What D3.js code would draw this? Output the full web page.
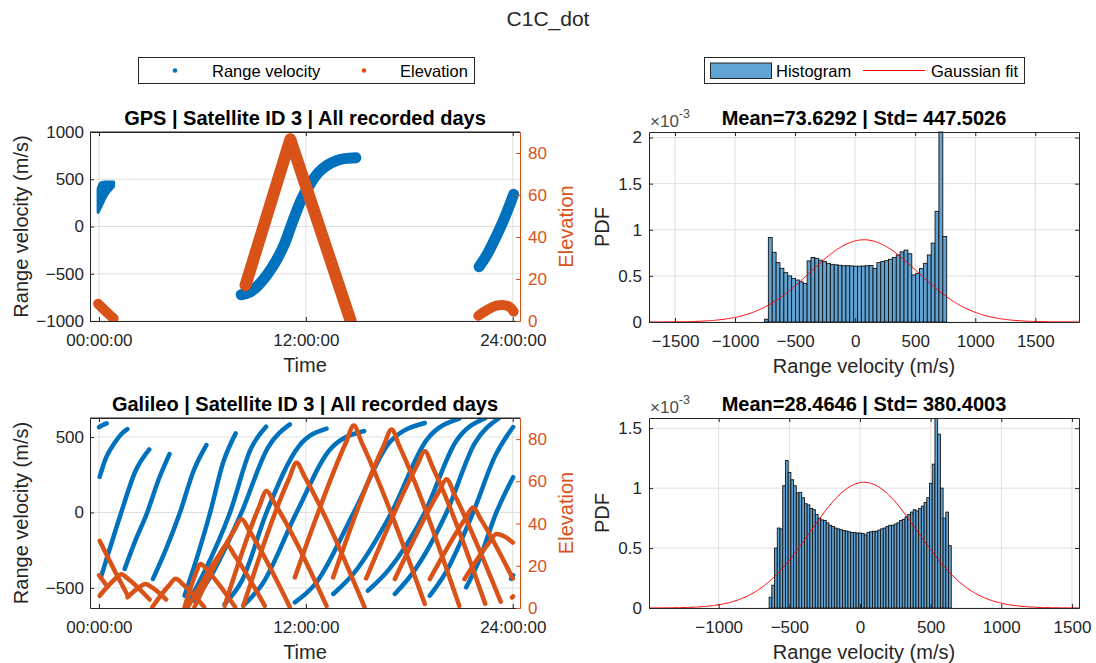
<!DOCTYPE html>
<html>
<head>
<meta charset="utf-8">
<script src="https://cdn.jsdelivr.net/npm/d3@7"></script>
<style>
  body { margin: 0; background: #ffffff; }
  svg text { font-family: "Liberation Sans", Arial, Helvetica, sans-serif; }
</style>
</head>
<body>
<svg id="chart" width="1096" height="663"></svg>
<script>
// ---- values ----
var timeTicks = [0, 12, 24];
var timeTickLabels = ["00:00:00", "12:00:00", "24:00:00"];
var gpsVelTicks = [-1000, -500, 0, 500, 1000];
var galVelTicks = [-500, 0, 500];
var elevTicks = [0, 20, 40, 60, 80];

// GPS sat 3 : time in hours, velocity m/s, elevation deg
var gpsVelStart = [[-0.05, 150, 400], [0.1, 205, 462], [0.4, 320, 472], [0.85, 425, 472]]; // t, low, high
var gpsVelMain = [[8.25, -722], [8.75, -695], [9.25, -620], [9.75, -510], [10.25, -370], [10.75, -190],
                  [11.25, 60], [11.75, 290], [12.25, 450], [12.75, 575], [13.25, 650], [13.75, 695],
                  [14.25, 718], [14.9, 728]];
var gpsVelEnd = [[22.05, -425], [22.5, -300], [23.0, -120], [23.5, 80], [24.05, 340]];
var gpsElevStart = [[-0.05, 8.2], [0.4, 4.6], [0.85, 1.2]];
var gpsElevMain = [[8.5, 17], [11.1, 86.5], [14.6, 0]];
var gpsElevEnd = [[22.0, 2.5], [22.5, 5.2], [23.0, 7.2], [23.4, 7.6], [23.8, 6.8], [24.05, 4.5]];

// Galileo sat 3 : one array per pass
var galVelArcs = [
  [[0.0, 565], [0.2, 578], [0.45, 590]],
  [[0.04, 236], [0.4, 360], [0.9, 460], [1.3, 520], [1.65, 552]],
  [[0.12, -427], [0.6, -250], [1.29, 0], [2.1, 270], [2.92, 418]],
  [[1.49, -374], [2.1, -190], [2.8, 0], [3.5, 230], [4.09, 387]],
  [[3.13, -441], [3.9, -240], [4.7, 0], [5.5, 280], [6.23, 447]],
  [[4.97, -551], [5.6, -330], [6.45, 0], [7.2, 330], [7.93, 524]],
  [[5.16, -600], [6.0, -420], [7.6, 0], [8.8, 420], [9.69, 568]],
  [[5.54, -585], [6.6, -400], [8.27, 0], [9.8, 430], [11.07, 584]],
  [[7.29, -606], [8.3, -450], [9.72, 0], [11.6, 440], [13.2, 556]],
  [[8.37, -617], [9.5, -470], [11.46, 0], [13.5, 430], [15.38, 540]],
  [[11.36, -596], [12.5, -480], [14.78, 0], [16.9, 470], [18.9, 593]],
  [[13.59, -540], [14.8, -400], [16.97, 0], [19.0, 480], [20.9, 622]],
  [[15.6, -518], [16.8, -380], [18.9, 0], [20.7, 470], [22.4, 625]],
  [[17.16, -540], [18.2, -400], [20.16, 0], [21.8, 460], [23.2, 625]],
  [[19.19, -551], [20.1, -400], [21.7, 0], [23.0, 380], [24.02, 566]],
  [[21.3, -496], [22.0, -330], [23.05, 0], [24.02, 234]],
  [[23.9, -440], [24.02, -416]]
];
var galElevArcs = [
  [[0.0, 15.5], [0.5, 10]],
  [[0.04, 31.8], [0.9, 17.8], [1.7, 5.5]],
  [[0.04, 5.8], [0.9, 13.5], [1.3, 16], [1.7, 13.7], [2.94, 4]],
  [[1.65, 5], [2.3, 9.6], [2.7, 11.4], [3.1, 9.6], [3.9, 4]],
  [[3.1, 0.5], [4.05, 10.6], [4.45, 13.8], [4.9, 11.0], [6.1, 0.5]],
  [[4.97, 0.5], [5.55, 15], [5.9, 20.8], [6.35, 17.2], [7.9, 0.5]],
  [[5.16, 0.5], [6.96, 25], [7.41, 30], [7.86, 25], [9.62, 1]],
  [[5.54, 0.5], [7.82, 36.5], [8.27, 42], [8.72, 36.6], [11.07, 0.5]],
  [[7.29, 1], [9.27, 47.5], [9.72, 55.4], [10.17, 49.8], [13.2, 1]],
  [[8.37, 1], [11.01, 61], [11.46, 68.8], [11.91, 62.5], [15.4, 0.5]],
  [[11.36, 14.5], [14.33, 78.5], [14.78, 86.4], [15.23, 78.6], [18.9, 1.9]],
  [[13.58, 14.5], [16.52, 77], [16.97, 84.5], [17.42, 76.8], [20.9, 1]],
  [[15.5, 14], [18.45, 67.6], [18.9, 74.3], [19.35, 66.8], [22.4, 2]],
  [[17.16, 13.7], [19.71, 55], [20.16, 61], [20.61, 53.9], [23.3, 3]],
  [[19.19, 13.7], [21.25, 42.4], [21.7, 47.6], [22.15, 42], [24.0, 14]],
  [[21.2, 13.7], [22.6, 30.6], [23.05, 35], [23.5, 34], [24.0, 31]],
  [[23.95, 5], [24.02, 5.5]]
];

// histograms, pdf in units of 1e-3
var gpsHistMin = -755, gpsHistMax = 762;
var gpsHistPdf = [0.03, 0.916, 0.756, 0.644, 0.582, 0.535, 0.50, 0.473, 0.455, 0.436, 0.418,
  0.662, 0.70, 0.69, 0.67, 0.655, 0.636, 0.625, 0.62, 0.615, 0.61, 0.61, 0.608, 0.605, 0.605, 0.607, 0.61, 0.612,
  0.58, 0.644, 0.655, 0.665, 0.68, 0.70, 0.727, 0.76, 0.78, 0.74,
  0.51, 0.527, 0.58, 0.636, 0.727, 0.855, 1.2, 2.07, 0.927];
var gpsMean = 73.6292, gpsStd = 447.5026;
var galHistMin = -643, galHistMax = 646;
var galHistPdf = [0.09, 0.19, 0.5, 0.667, 0.66, 1.02, 1.23, 1.13, 1.07, 1.02, 0.96, 0.965, 0.92, 0.87, 0.86,
  0.83, 0.82, 0.78, 0.75, 0.735, 0.73, 0.71, 0.69, 0.68, 0.667, 0.66, 0.653, 0.647, 0.642, 0.636, 0.63, 0.63,
  0.625, 0.625, 0.622, 0.61, 0.63, 0.636, 0.64, 0.64, 0.65, 0.66, 0.667, 0.68, 0.69, 0.69, 0.70, 0.71, 0.73,
  0.74, 0.76, 0.78, 0.80, 0.82, 0.81, 0.83, 0.85, 0.88, 0.92, 1.04, 1.2, 1.58, 1.45, 1.0, 0.75, 0.80, 0.52];
var galMean = 28.4646, galStd = 380.4003;
var gpsHistTicks = [-1500, -1000, -500, 0, 500, 1000, 1500];
var galHistTicks = [-1000, -500, 0, 500, 1000, 1500];
var gpsPdfTicks = [0, 0.5, 1, 1.5, 2];
var galPdfTicks = [0, 0.5, 1, 1.5];

// ---- drawing ----
var svg = d3.select("#chart");
var ink = "#262626", gridCol = "#dfdfdf";
var blue = "#0072bd", orange = "#d95319", histFill = "#5fa4d4";
var timeDomain = [-0.52, 24.42];
var elevDomain = [0, 90];
var defs = svg.append("defs");

function styleAxis(sel, color) {
  sel.attr("font-family", null).attr("font-size", 17).attr("color", color);
  sel.select(".domain").attr("stroke-width", 1);
}

function addGrid(g, xs, ys, x, y, p) {
  g.append("g").selectAll("line").data(xs).enter().append("line")
    .attr("x1", x).attr("x2", x).attr("y1", p.top).attr("y2", p.bottom)
    .attr("stroke", gridCol);
  g.append("g").selectAll("line").data(ys).enter().append("line")
    .attr("x1", p.left).attr("x2", p.right).attr("y1", y).attr("y2", y)
    .attr("stroke", gridCol);
}

function ylabel(text, xBase, yMid, color) {
  svg.append("text").attr("transform", "translate(" + xBase + "," + yMid + ") rotate(-90)")
    .attr("text-anchor", "middle").attr("font-size", 20).attr("fill", color).text(text);
}

function drawTimePanel(p) {
  var x = d3.scaleLinear().domain(timeDomain).range([p.left, p.right]);
  var y = d3.scaleLinear().domain(p.velDomain).range([p.bottom, p.top]);
  var y2 = d3.scaleLinear().domain(elevDomain).range([p.bottom, p.top]);
  var g = svg.append("g");

  addGrid(g, timeTicks, p.velTicks, x, y, p);

  defs.append("clipPath").attr("id", p.id).append("rect")
    .attr("x", p.left).attr("y", p.top)
    .attr("width", p.right - p.left).attr("height", p.bottom - p.top);
  var plot = g.append("g").attr("clip-path", "url(#" + p.id + ")");
  p.draw(plot, x, y, y2);

  g.append("line").attr("x1", p.left).attr("x2", p.right).attr("y1", p.top).attr("y2", p.top)
    .attr("stroke", ink);
  g.append("g").attr("transform", "translate(0," + p.top + ")")
    .call(d3.axisTop(x).tickValues(timeTicks).tickFormat("").tickSizeInner(-4).tickSizeOuter(0))
    .call(styleAxis, ink);
  g.append("g").attr("transform", "translate(0," + p.bottom + ")")
    .call(d3.axisBottom(x).tickValues(timeTicks)
      .tickFormat(function(d, i) { return timeTickLabels[i]; })
      .tickSizeInner(-4).tickSizeOuter(0).tickPadding(13))
    .call(styleAxis, ink);
  g.append("g").attr("transform", "translate(" + p.left + ",0)")
    .call(d3.axisLeft(y).tickValues(p.velTicks).tickFormat(d3.format("d"))
      .tickSizeInner(-4).tickSizeOuter(0).tickPadding(6))
    .call(styleAxis, ink);
  g.append("g").attr("transform", "translate(" + p.right + ",0)")
    .call(d3.axisRight(y2).tickValues(elevTicks)
      .tickSizeInner(-4).tickSizeOuter(0).tickPadding(8))
    .call(styleAxis, orange);

  svg.append("text").attr("x", (p.left + p.right) / 2).attr("y", p.top - 7)
    .attr("text-anchor", "middle").attr("font-size", 20).attr("font-weight", "bold")
    .attr("fill", "#000").text(p.title);
  svg.append("text").attr("x", (p.left + p.right) / 2).attr("y", p.bottom + 51)
    .attr("text-anchor", "middle").attr("font-size", 20).attr("fill", ink).text("Time");
  ylabel("Range velocity (m/s)", 28, (p.top + p.bottom) / 2, ink);
  ylabel("Elevation", 573, (p.top + p.bottom) / 2, orange);
}

function drawHistPanel(p) {
  var x = d3.scaleLinear().domain([p.mean - 4 * p.std, p.mean + 4 * p.std]).range([p.left, p.right]);
  var y = d3.scaleLinear().domain([0, p.yMax]).range([p.bottom, p.top]);
  var g = svg.append("g");
  var bw = (p.binMax - p.binMin) / p.pdf.length;

  addGrid(g, p.xTicks, p.yTicks, x, y, p);

  g.append("g").selectAll("rect").data(p.pdf).enter().append("rect")
    .attr("x", function(d, i) { return x(p.binMin + i * bw); })
    .attr("width", function(d, i) { return x(p.binMin + (i + 1) * bw) - x(p.binMin + i * bw); })
    .attr("y", function(d) { return y(Math.min(d, p.yMax)); })
    .attr("height", function(d) { return p.bottom - y(Math.min(d, p.yMax)); })
    .attr("fill", histFill).attr("stroke", "#141414").attr("stroke-width", 0.9);

  var dom = x.domain();
  var vs = d3.range(dom[0], dom[1], 8).concat([dom[1]]);
  var fit = d3.line()
    .x(function(v) { return x(v); })
    .y(function(v) {
      var z = (v - p.mean) / p.std;
      return y(1e3 * Math.exp(-0.5 * z * z) / (p.std * Math.sqrt(2 * Math.PI)));
    });
  g.append("path").attr("d", fit(vs)).attr("fill", "none").attr("stroke", "#ff0000").attr("stroke-width", 1);

  g.append("g").attr("transform", "translate(0," + p.top + ")")
    .call(d3.axisBottom(x).tickValues(p.xTicks).tickFormat("").tickSizeInner(4).tickSizeOuter(0))
    .call(styleAxis, ink);
  g.append("g").attr("transform", "translate(0," + p.bottom + ")")
    .call(d3.axisBottom(x).tickValues(p.xTicks).tickFormat(d3.format("d"))
      .tickSizeInner(-4).tickSizeOuter(0).tickPadding(13))
    .call(styleAxis, ink);
  g.append("g").attr("transform", "translate(" + p.left + ",0)")
    .call(d3.axisLeft(y).tickValues(p.yTicks).tickFormat(d3.format("~g"))
      .tickSizeInner(-4).tickSizeOuter(0).tickPadding(7))
    .call(styleAxis, ink);
  g.append("g").attr("transform", "translate(" + p.right + ",0)")
    .call(d3.axisRight(y).tickValues(p.yTicks).tickFormat("").tickSizeInner(-4).tickSizeOuter(0))
    .call(styleAxis, ink);

  var ex = svg.append("text").attr("x", p.left + 1).attr("y", p.top - 5)
    .attr("font-size", 17).attr("fill", "#4d4d4d");
  ex.append("tspan").text("\u00d710");
  ex.append("tspan").attr("font-size", 12.5).attr("dy", -9).text("-3");

  svg.append("text").attr("x", (p.left + p.right) / 2).attr("y", p.top - 7)
    .attr("text-anchor", "middle").attr("font-size", 20).attr("font-weight", "bold")
    .attr("fill", "#000").text(p.title);
  svg.append("text").attr("x", (p.left + p.right) / 2).attr("y", p.bottom + 51)
    .attr("text-anchor", "middle").attr("font-size", 20).attr("fill", ink).text("Range velocity (m/s)");
  ylabel("PDF", 609, (p.top + p.bottom) / 2, ink);
}

// GPS time panel
drawTimePanel({
  id: "clipGps", left: 90, right: 520, top: 132, bottom: 321,
  velDomain: [-1000, 1000], velTicks: gpsVelTicks,
  title: "GPS | Satellite ID 3 | All recorded days",
  draw: function(plot, x, y, y2) {
    var band = d3.area().curve(d3.curveMonotoneX)
      .x(function(d) { return x(d[0]); })
      .y0(function(d) { return y(d[1]); })
      .y1(function(d) { return y(d[2]); });
    plot.append("path").attr("d", band(gpsVelStart)).attr("fill", blue)
      .attr("stroke", blue).attr("stroke-width", 3).attr("stroke-linejoin", "round");
    var lv = d3.line().curve(d3.curveMonotoneX)
      .x(function(d) { return x(d[0]); }).y(function(d) { return y(d[1]); });
    [gpsVelMain, gpsVelEnd].forEach(function(s) {
      plot.append("path").attr("d", lv(s)).attr("fill", "none").attr("stroke", blue)
        .attr("stroke-width", 11).attr("stroke-linecap", "round").attr("stroke-linejoin", "round");
    });
    var le = d3.line().curve(d3.curveLinear)
      .x(function(d) { return x(d[0]); }).y(function(d) { return y2(d[1]); });
    var leSmooth = d3.line().curve(d3.curveMonotoneX)
      .x(function(d) { return x(d[0]); }).y(function(d) { return y2(d[1]); });
    plot.append("path").attr("d", le(gpsElevMain)).attr("fill", "none").attr("stroke", orange)
      .attr("stroke-width", 12).attr("stroke-linecap", "round").attr("stroke-linejoin", "round");
    [gpsElevStart, gpsElevEnd].forEach(function(s) {
      plot.append("path").attr("d", leSmooth(s)).attr("fill", "none").attr("stroke", orange)
        .attr("stroke-width", 10).attr("stroke-linecap", "round").attr("stroke-linejoin", "round");
    });
  }
});

// Galileo time panel
drawTimePanel({
  id: "clipGal", left: 90, right: 520, top: 418, bottom: 608,
  velDomain: [-633, 626], velTicks: galVelTicks,
  title: "Galileo | Satellite ID 3 | All recorded days",
  draw: function(plot, x, y, y2) {
    var lv = d3.line().curve(d3.curveMonotoneX)
      .x(function(d) { return x(d[0]); }).y(function(d) { return y(d[1]); });
    var le = d3.line().curve(d3.curveMonotoneX)
      .x(function(d) { return x(d[0]); }).y(function(d) { return y2(d[1]); });
    plot.selectAll("path.v").data(galVelArcs).enter().append("path").attr("class", "v")
      .attr("d", lv).attr("fill", "none").attr("stroke", blue)
      .attr("stroke-width", 4.5).attr("stroke-linecap", "round");
    plot.selectAll("path.e").data(galElevArcs).enter().append("path").attr("class", "e")
      .attr("d", le).attr("fill", "none").attr("stroke", orange)
      .attr("stroke-width", 4.5).attr("stroke-linecap", "round").attr("stroke-linejoin", "round");
  }
});

drawHistPanel({
  left: 649, right: 1079, top: 132, bottom: 322,
  mean: gpsMean, std: gpsStd, yMax: 2.06, pdf: gpsHistPdf,
  binMin: gpsHistMin, binMax: gpsHistMax, xTicks: gpsHistTicks, yTicks: gpsPdfTicks,
  title: "Mean=73.6292 | Std= 447.5026"
});
drawHistPanel({
  left: 649, right: 1079, top: 418, bottom: 608,
  mean: galMean, std: galStd, yMax: 1.585, pdf: galHistPdf,
  binMin: galHistMin, binMax: galHistMax, xTicks: galHistTicks, yTicks: galPdfTicks,
  title: "Mean=28.4646 | Std= 380.4003"
});

// legends
var lg1 = svg.append("g");
lg1.append("rect").attr("x", 138.5).attr("y", 57.5).attr("width", 336).attr("height", 26)
  .attr("fill", "#fff").attr("stroke", ink);
lg1.append("circle").attr("cx", 175).attr("cy", 70.5).attr("r", 2.3).attr("fill", blue);
lg1.append("text").attr("x", 212).attr("y", 76.5).attr("font-size", 16.5).attr("fill", "#000").text("Range velocity");
lg1.append("circle").attr("cx", 364).attr("cy", 70.5).attr("r", 2.3).attr("fill", orange);
lg1.append("text").attr("x", 400).attr("y", 76.5).attr("font-size", 16.5).attr("fill", "#000").text("Elevation");

var lg2 = svg.append("g");
lg2.append("rect").attr("x", 704.5).attr("y", 57.5).attr("width", 320).attr("height", 26)
  .attr("fill", "#fff").attr("stroke", ink);
lg2.append("rect").attr("x", 710.5).attr("y", 63).attr("width", 61).attr("height", 15.5)
  .attr("fill", histFill).attr("stroke", ink);
lg2.append("text").attr("x", 776).attr("y", 76.5).attr("font-size", 16.5).attr("fill", "#000").text("Histogram");
lg2.append("line").attr("x1", 863).attr("x2", 925).attr("y1", 70.5).attr("y2", 70.5)
  .attr("stroke", "#ff0000").attr("stroke-width", 1);
lg2.append("text").attr("x", 931).attr("y", 76.5).attr("font-size", 16.5).attr("fill", "#000").text("Gaussian fit");

svg.append("text").attr("x", 548).attr("y", 26).attr("text-anchor", "middle")
  .attr("font-size", 21).attr("fill", ink).text("C1C_dot");
</script>
</body>
</html>
